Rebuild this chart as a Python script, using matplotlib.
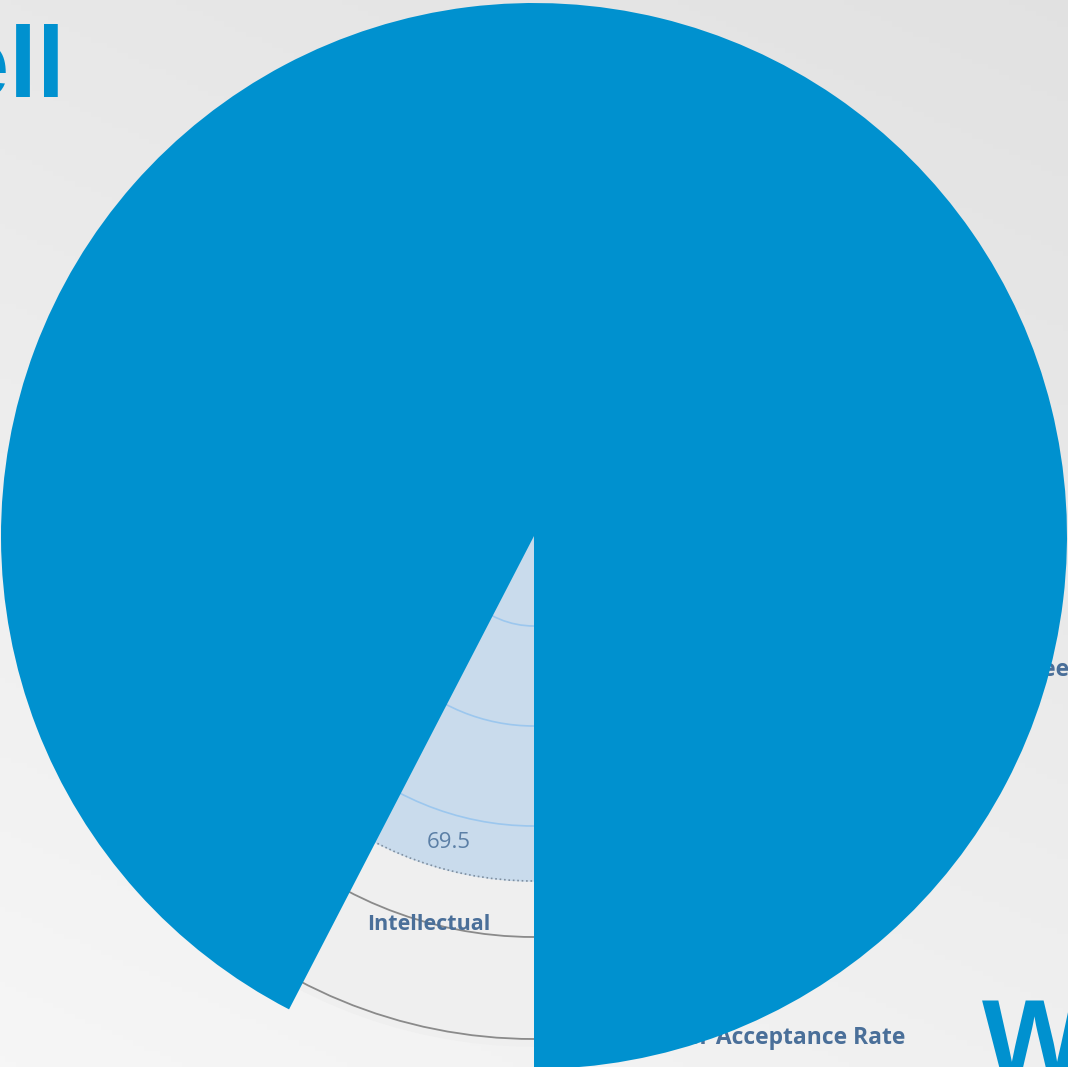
import numpy as np
import matplotlib.pyplot as plt
from matplotlib.patches import Circle

W, H = 1068, 1067

# pie slices (share of full circle, %)
slice_values = [92.4, 7.6]
slice_colors = ['#0091cf', 'none']

# faded radar chart behind the pie
radar_value = 69.5
radar_grid = [90, 190, 290]
radar_fill_r = 345
ring_radii = [401, 503]
labels = ['Intellectual', 'Offer Acceptance Rate', 'Employee']

cx, cy = 534, H - 536
R = 533

fig = plt.figure(figsize=(W / 100, H / 100), dpi=100)
ax = fig.add_axes([0, 0, 1, 1])
ax.set_xlim(0, W)
ax.set_ylim(0, H)
ax.axis('off')

# background gradient
gx, gy = np.meshgrid(np.linspace(0, 1, 200), np.linspace(0, 1, 200))
grad = 0.965 - 0.055 * gy - 0.025 * gx
ax.imshow(np.dstack([grad, grad, grad]), extent=[0, W, H, 0], zorder=0, aspect='auto')

# radar remnants
ax.add_patch(Circle((cx, cy), 510, color='#efefef', zorder=1))
for r in ring_radii:
    ax.add_patch(Circle((cx, cy), r, fill=False, ec='#8a8a8a', lw=1.3, zorder=2))
ax.add_patch(Circle((cx, cy), radar_fill_r, color='#c9dbec', zorder=2))
ax.add_patch(Circle((cx, cy), radar_fill_r, fill=False, ec='#7f8fa0', lw=1.2, ls=':', zorder=3))
for r in radar_grid:
    ax.add_patch(Circle((cx, cy), r, fill=False, ec='#9cc7ee', lw=1.2, zorder=3))
ax.plot([cx + 1, cx + 3], [cy, H - 1045], color='#33475e', lw=1.5, zorder=3)

ax.text(449, H - 843, f'{radar_value}', fontsize=16, color='#5b7fa6',
        family='Open Sans', ha='center', va='center', zorder=4)
ax.text(429, H - 924, labels[0], fontsize=15.5, color='#4a6f99', fontweight='bold',
        family='Open Sans', ha='center', va='center', zorder=4)
ax.text(905, H - 1038, labels[1], fontsize=16.5, color='#4a6f99', fontweight='bold',
        family='Open Sans', ha='right', va='center', zorder=4)
ax.text(1069, H - 670, labels[2], fontsize=16.5, color='#4a6f99', fontweight='bold',
        family='Open Sans', ha='right', va='center', zorder=4)

# big heading fragments
ax.text(66, H - 97, 'Well', fontsize=72, color='#0091cf', fontweight='bold',
        family='Liberation Sans', ha='right', va='baseline', zorder=4)
ax.text(982, H - 1077, 'W', fontsize=80, color='#0091cf', fontweight='bold',
        family='Liberation Sans', ha='left', va='baseline', zorder=4)

# the pie itself
ax.pie(slice_values, colors=slice_colors, center=(cx, cy), radius=R,
       startangle=-90, counterclock=True, frame=True,
       wedgeprops=dict(lw=0, zorder=5))
ax.set_xlim(0, W)
ax.set_ylim(0, H)
ax.set_aspect('auto')
ax.axis('off')

fig.savefig('out.png', dpi=100)
